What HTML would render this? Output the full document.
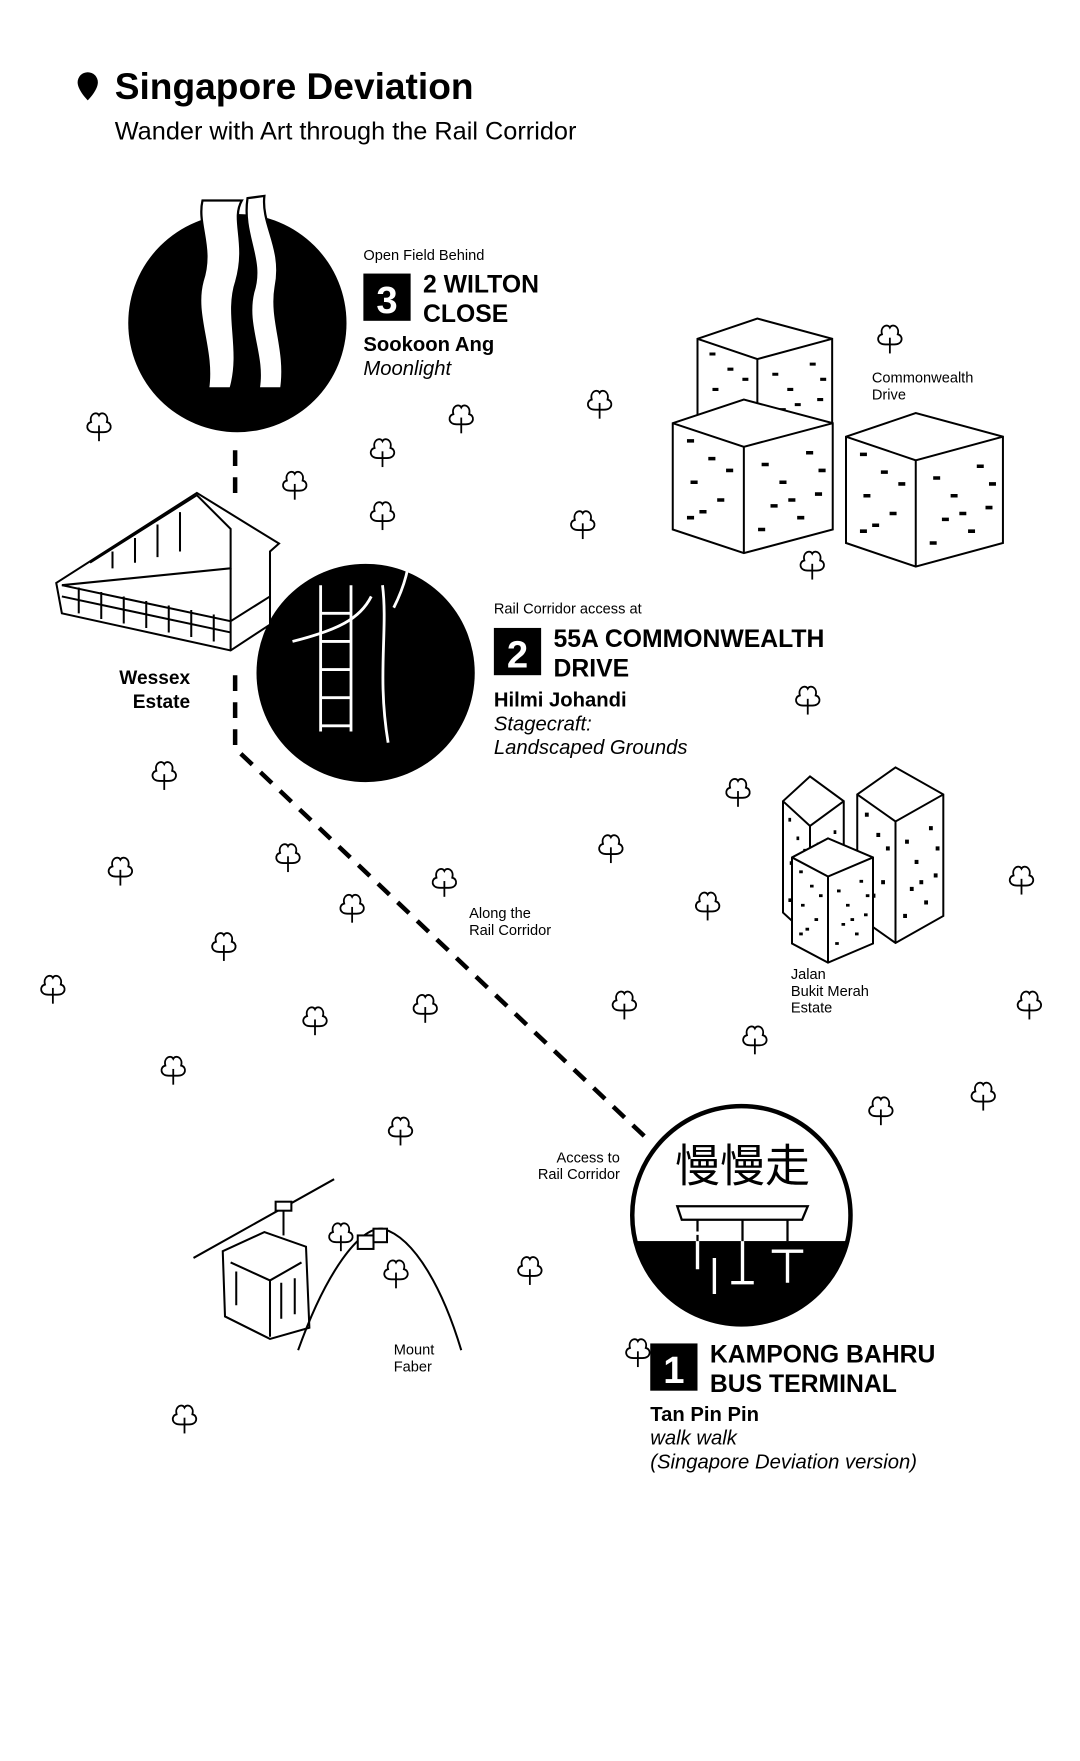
<!DOCTYPE html>
<html><head><meta charset="utf-8"><style>
html,body{margin:0;padding:0;background:#fff;}
svg{display:block;}
text{font-family:"Liberation Sans","Noto Sans CJK SC",sans-serif;fill:#000;}
.b{font-weight:bold;}
.i{font-style:italic;}
</style></head><body>
<svg width="1080" height="1761" viewBox="0 0 960 1565" xmlns="http://www.w3.org/2000/svg">
<defs>
<g id="t" fill="none" stroke="#000" stroke-width="1.6">
<path d="M-4,6 C-12,6 -12,-2 -7,-3 C-9,-10 -2,-13 0,-9 C2,-13 9,-10 7,-3 C12,-2 12,6 4,6 Z"/>
<path d="M0,0 V14"/>
</g>
<g id="bld" stroke="#000" stroke-width="2" fill="#fff" vector-effect="non-scaling-stroke">
<path d="M0,20 L40,0 L90,20 L90,110 L40,130 L0,110 Z" vector-effect="non-scaling-stroke"/>
<path d="M0,20 L40,40 L90,20 M40,40 V130" fill="none" vector-effect="non-scaling-stroke"/>
<path d="M8,35 h4 M20,50 h4 M10,70 h4 M25,85 h4 M15,95 h4 M50,55 h4 M60,70 h4 M75,45 h4 M55,90 h4 M80,80 h4 M70,100 h4 M48,110 h4 M30,60 h4 M8,100 h4 M65,85 h4 M82,60 h4" stroke-width="3"/>
</g>
</defs>
<rect width="960" height="1565" fill="#fff"/>
<!-- title -->
<path d="M78,64 a9,9 0 0 1 9,9 c0,7 -9,16 -9,16 c0,0 -9,-9 -9,-16 a9,9 0 0 1 9,-9z" fill="#000"/>
<text x="102" y="88" font-size="33" class="b">Singapore Deviation</text>
<text x="102" y="124" font-size="22.5">Wander with Art through the Rail Corridor</text>

<!-- dashed path -->
<g stroke="#000" stroke-width="4" stroke-dasharray="14,10" fill="none">
<path d="M209,400 V440"/>
<path d="M209,600 V665 L573,1010"/>
</g>

<!-- trees -->
<g>
<use href="#t" x="88" y="378"/><use href="#t" x="410" y="371"/><use href="#t" x="533" y="358"/>
<use href="#t" x="340" y="401"/><use href="#t" x="262" y="430"/><use href="#t" x="340" y="457"/>
<use href="#t" x="518" y="465"/><use href="#t" x="791" y="300"/><use href="#t" x="722" y="501"/>
<use href="#t" x="814" y="479"/><use href="#t" x="718" y="621"/><use href="#t" x="146" y="688"/>
<use href="#t" x="656" y="703"/><use href="#t" x="543" y="753"/><use href="#t" x="256" y="761"/>
<use href="#t" x="107" y="773"/><use href="#t" x="395" y="783"/><use href="#t" x="313" y="806"/>
<use href="#t" x="629" y="804"/><use href="#t" x="908" y="781"/><use href="#t" x="199" y="840"/>
<use href="#t" x="47" y="878"/><use href="#t" x="378" y="895"/><use href="#t" x="555" y="892"/>
<use href="#t" x="280" y="906"/><use href="#t" x="915" y="892"/><use href="#t" x="671" y="923"/>
<use href="#t" x="154" y="950"/><use href="#t" x="874" y="973"/><use href="#t" x="783" y="986"/>
<use href="#t" x="356" y="1004"/><use href="#t" x="303" y="1098"/><use href="#t" x="352" y="1131"/>
<use href="#t" x="471" y="1128"/><use href="#t" x="567" y="1201"/><use href="#t" x="164" y="1260"/>
</g>

<!-- circle 3 -->
<circle cx="211" cy="287" r="97" fill="#000"/>
<path d="M180,178 C175,200 190,220 180,250 C172,280 190,310 185,345 L205,345 C215,310 200,280 210,250 C220,215 205,195 215,178 Z" fill="#fff" stroke="#000" stroke-width="2"/>
<path d="M220,176 C215,210 235,230 225,260 C218,290 235,315 230,345 L250,345 C255,310 240,285 245,255 C252,220 232,200 235,174 Z" fill="#fff" stroke="#000" stroke-width="2"/>

<!-- circle 2 -->
<circle cx="325" cy="598" r="97" fill="#000"/>
<g stroke="#fff" stroke-width="2.5" fill="none">
<path d="M285,520 V650 M312,520 V650 M285,545 H312 M285,570 H312 M285,595 H312 M285,620 H312 M285,645 H312"/>
<path d="M340,520 C345,560 335,600 345,660 M330,530 C320,550 300,560 260,570 M350,540 C360,520 365,500 362,495"/>
</g>

<!-- wessex building -->
<g stroke="#000" stroke-width="1.8" fill="#fff">
<path d="M50,518 L175,438 L248,483 L240,490 L240,555 L205,578 L55,545 Z"/>
<path d="M55,520 L205,552 L240,530 M55,530 L205,562 M205,505 V578 M70,522 V545 M90,526 V550 M110,530 V554 M130,534 V558 M150,538 V562 M170,542 V566 M190,546 V570"/>
<path d="M80,500 L175,440 L205,470 L205,505 L55,520" fill="none"/>
<path d="M100,490 V505 M120,478 V500 M140,466 V495 M160,455 V490" />
</g>
<text x="106" y="608" font-size="17" class="b">Wessex</text>
<text x="118" y="629" font-size="17" class="b">Estate</text>

<!-- commonwealth blocks -->
<g transform="translate(620,283) scale(1.33,0.9)"><use href="#bld"/></g>
<g transform="translate(598,355) scale(1.58,1.05)"><use href="#bld"/></g>
<g transform="translate(752,367) scale(1.55,1.05)"><use href="#bld"/></g>
<text x="775" y="340" font-size="13">Commonwealth</text>
<text x="775" y="355" font-size="13">Drive</text>

<!-- jalan bukit merah blocks -->
<g transform="translate(696,690) scale(0.6,1.1)"><use href="#bld"/></g>
<g transform="translate(762,682) scale(0.85,1.2)"><use href="#bld"/></g>
<g transform="translate(704,745) scale(0.8,0.85)"><use href="#bld"/></g>
<text x="703" y="870" font-size="13">Jalan</text>
<text x="703" y="885" font-size="13">Bukit Merah</text>
<text x="703" y="900" font-size="13">Estate</text>

<!-- labels 3 -->
<text x="323" y="231" font-size="13">Open Field Behind</text>
<rect x="323" y="243" width="42" height="42" fill="#000"/>
<text x="344" y="278" font-size="34" class="b" style="fill:#fff" text-anchor="middle">3</text>
<text x="376" y="260" font-size="22" class="b">2 WILTON</text>
<text x="376" y="286" font-size="22" class="b">CLOSE</text>
<text x="323" y="312" font-size="18" class="b">Sookoon Ang</text>
<text x="323" y="333" font-size="18" class="i">Moonlight</text>

<!-- labels 2 -->
<text x="439" y="545" font-size="13">Rail Corridor access at</text>
<rect x="439" y="558" width="42" height="42" fill="#000"/>
<text x="460" y="593" font-size="34" class="b" style="fill:#fff" text-anchor="middle">2</text>
<text x="492" y="575" font-size="22" class="b">55A COMMONWEALTH</text>
<text x="492" y="601" font-size="22" class="b">DRIVE</text>
<text x="439" y="628" font-size="18" class="b">Hilmi Johandi</text>
<text x="439" y="649" font-size="18" class="i">Stagecraft:</text>
<text x="439" y="670" font-size="18" class="i">Landscaped Grounds</text>

<text x="417" y="816" font-size="13">Along the</text>
<text x="417" y="831" font-size="13">Rail Corridor</text>
<text x="551" y="1033" font-size="13" text-anchor="end">Access to</text>
<text x="551" y="1048" font-size="13" text-anchor="end">Rail Corridor</text>

<!-- circle 1 -->
<clipPath id="c1"><circle cx="659" cy="1080" r="98"/></clipPath>
<g clip-path="url(#c1)">
<rect x="550" y="970" width="220" height="220" fill="#fff"/>
<rect x="550" y="1103" width="220" height="100" fill="#000"/>
</g>
<circle cx="659" cy="1080" r="97" fill="none" stroke="#000" stroke-width="4"/>
<text x="660" y="1050" font-size="40" text-anchor="middle" style="font-family:'Noto Sans CJK SC',sans-serif">慢慢走</text>
<g stroke="#000" stroke-width="2" fill="#fff">
<path d="M602,1072 H718 L713,1084 H606 Z"/>
<path d="M620,1084 V1103 M660,1084 V1103 M700,1084 V1103" fill="none"/>
</g>
<g stroke="#fff" stroke-width="3" fill="none">
<path d="M660,1103 V1140 M620,1103 V1128 M700,1112 V1140 M635,1118 V1150 M606,1096 h28 M686,1112 h28 M650,1140 h20"/>
</g>

<!-- label 1 -->
<rect x="578" y="1194" width="42" height="42" fill="#000"/>
<text x="599" y="1229" font-size="34" class="b" style="fill:#fff" text-anchor="middle">1</text>
<text x="631" y="1211" font-size="22" class="b">KAMPONG BAHRU</text>
<text x="631" y="1237" font-size="22" class="b">BUS TERMINAL</text>
<text x="578" y="1263" font-size="18" class="b">Tan Pin Pin</text>
<text x="578" y="1284" font-size="18" class="i">walk walk</text>
<text x="578" y="1305" font-size="18" class="i">(Singapore Deviation version)</text>

<!-- cable car / mount faber -->
<g stroke="#000" stroke-width="1.8" fill="#fff">
<path d="M172,1118 L297,1048" fill="none"/>
<path d="M252,1075 V1098" fill="none"/>
<rect x="245" y="1068" width="14" height="8"/>
<path d="M198,1112 L235,1095 L272,1108 L275,1180 L240,1190 L200,1170 Z"/>
<path d="M205,1122 L240,1138 L268,1122 M240,1138 V1188 M210,1130 V1160 M250,1140 V1172 M262,1136 V1168" fill="none"/>
<path d="M265,1200 C290,1130 320,1090 340,1092 C370,1100 395,1150 410,1200" fill="none"/>
<rect x="318" y="1098" width="14" height="12"/><rect x="332" y="1092" width="12" height="12"/>
</g>
<text x="350" y="1204" font-size="13">Mount</text>
<text x="350" y="1219" font-size="13">Faber</text>
</svg>
</body></html>
